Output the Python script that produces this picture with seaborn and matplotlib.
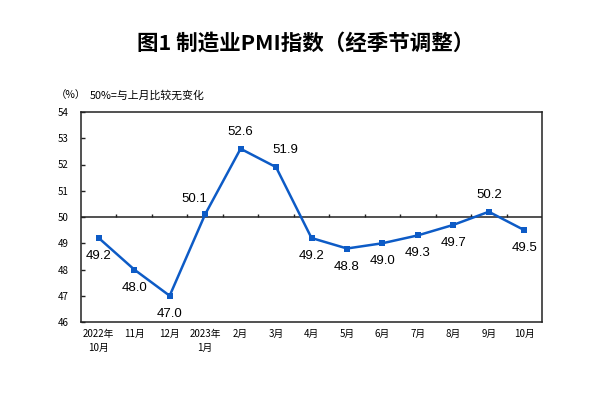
import numpy as np
import pandas as pd
import matplotlib
matplotlib.use("Agg")
import matplotlib.pyplot as plt
import seaborn as sns

months = ['2022年\n10月', '11月', '12月', '2023年\n1月', '2月', '3月', '4月',
          '5月', '6月', '7月', '8月', '9月', '10月']
pmi = [49.2, 48.0, 47.0, 50.1, 52.6, 51.9, 49.2, 48.8, 49.0, 49.3, 49.7, 50.2, 49.5]
label_pos = ['below', 'below', 'below', 'above-left', 'above', 'above-right', 'below',
             'below', 'below', 'below', 'below', 'above', 'below']
y_ticks = [46, 47, 48, 49, 50, 51, 52, 53, 54]

sns.set_theme(style='white')
plt.rcParams['font.family'] = ['Noto Sans CJK SC', 'DejaVu Sans']
plt.rcParams['text.color'] = 'black'
plt.rcParams['xtick.color'] = 'black'
plt.rcParams['ytick.color'] = 'black'

df = pd.DataFrame({'idx': np.arange(len(months)), 'pmi': pmi})

fig = plt.figure(figsize=(6.12, 3.95), dpi=100)
ax = fig.add_axes([81 / 612, 1 - 322 / 395, (542 - 81) / 612, (322 - 112) / 395])

blue = '#0D5BC6'
sns.lineplot(data=df, x='idx', y='pmi', ax=ax, color=blue, lw=1.8,
             marker='s', markersize=5, markeredgewidth=0, legend=False)

ax.set_xlim(-0.5, len(months) - 0.5)
ax.set_ylim(46, 54)
ax.set_yticks(y_ticks)
ax.set_yticklabels([str(v) for v in y_ticks], fontsize=7, fontweight='medium')
ax.tick_params(axis='y', direction='in', length=3, width=1, color='#222222', pad=9, left=True)
ax.set_xticks(df['idx'])
ax.set_xticklabels(months, fontsize=7, linespacing=1.45, fontweight='medium')
ax.tick_params(axis='x', length=0, pad=5)
ax.set_xlabel('')
ax.set_ylabel('')
for s in ax.spines.values():
    s.set_color('#222222')
    s.set_linewidth(1.1)

# 50 reference line with boundary ticks
ax.axhline(50, color='#222222', lw=1.1, zorder=1)
ax.vlines(np.arange(0.5, len(months) - 1), 50, 50.13, color='#222222', lw=1, zorder=1)

offsets = {'below': (0, -13), 'above': (0, 12), 'above-left': (-8, 11), 'above-right': (7, 12)}
for i, v in enumerate(pmi):
    dx, dy = offsets[label_pos[i]]
    ax.annotate(f'{v:.1f}', (i, v), xytext=(dx, dy), textcoords='offset points',
                ha='center', va='center', fontsize=9.5, family='Liberation Sans', color='black')

fig.text(0.5, 1 - 43 / 395, '图1 制造业PMI指数（经季节调整）', ha='center', va='center',
         fontsize=15.5, fontweight='bold')
fig.text(56 / 612, 1 - 95 / 395, '（%）', ha='left', va='center', fontsize=7.5)
fig.text(90 / 612, 1 - 95 / 395, '50%=与上月比较无变化', ha='left', va='center', fontsize=7.8)

fig.savefig('out.png', dpi=100)
